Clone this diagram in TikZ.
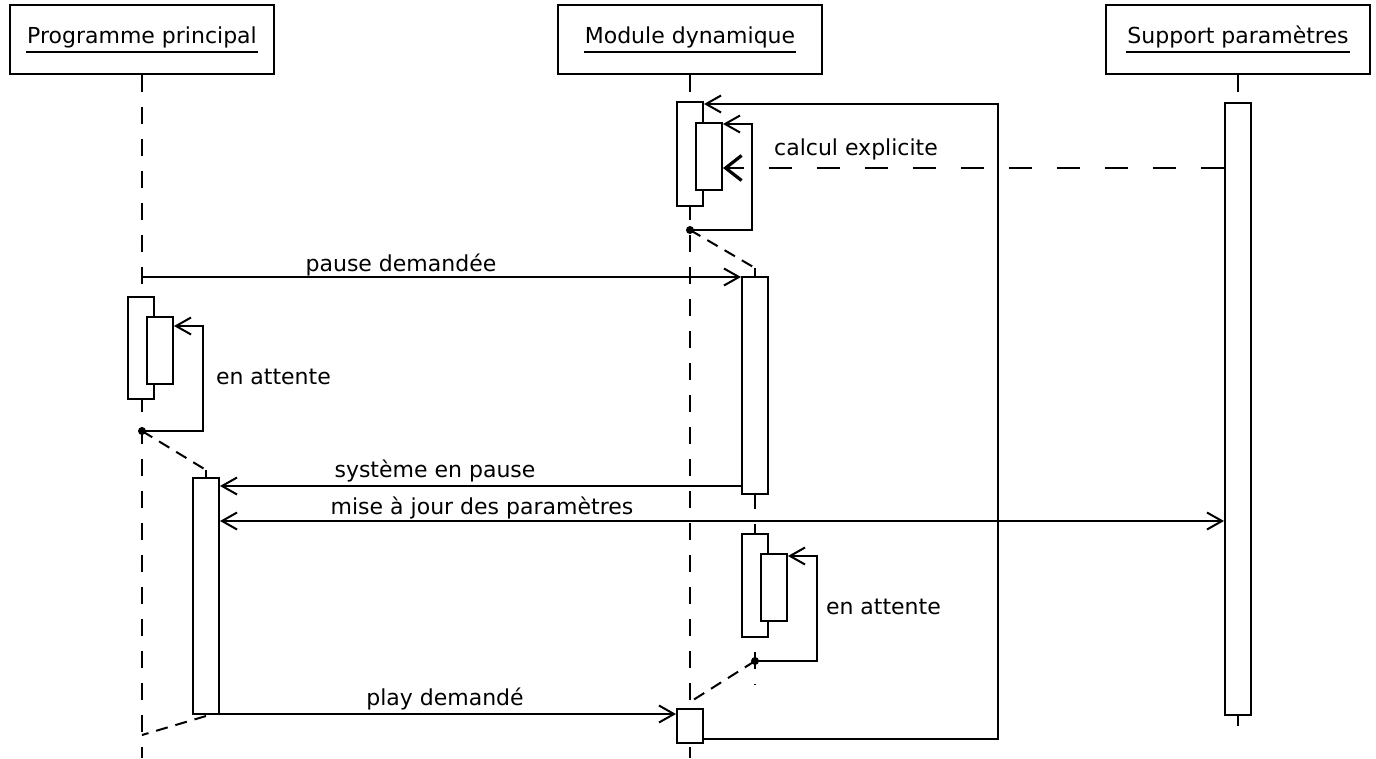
\documentclass[tikz,border=0pt]{standalone}
\usepackage{fontspec}
\setmainfont{DejaVu Sans}
\usetikzlibrary{positioning, arrows.meta}

\begin{document}
\begin{tikzpicture}[x=1pt, y=-1pt, line width=2pt,
		font=\fontsize{22}{26}\selectfont,
		tete/.style={draw, rectangle, minimum width=264pt, minimum height=69pt, inner sep=0pt},
		etiq/.style={inner sep=0pt},
		vie/.style={dash pattern=on 17pt off 15pt},
		fil/.style={dash pattern=on 12pt off 8pt},
		activ/.style={draw, fill=white, rectangle, inner sep=0pt, minimum width=26pt, anchor=north},
		msg/.style={-{Straight Barb[length=15pt, width=17pt]}},
		point/.style={circle, fill, inner sep=0pt, minimum size=8pt}]
		\def\Xpp{142} % ligne de vie : programme principal
		\def\Xmd{690} % ligne de vie : module dynamique
		\def\Xsp{1238} % ligne de vie : support parametres
		
		\useasboundingbox (0,0) rectangle (1376,758);
		
		% Entetes
		\node[tete] (pp) at (\Xpp,39.5) {};
		\node[etiq, anchor=base] (ppTxt) at (\Xpp,43) {Programme principal};
		\draw ([yshift=-9pt]ppTxt.base west) -- ([yshift=-9pt]ppTxt.base east);
		\node[tete] (md) at (\Xmd,39.5) {};
		\node[etiq, anchor=base] (mdTxt) at (\Xmd,43) {Module dynamique};
		\draw ([yshift=-9pt]mdTxt.base west) -- ([yshift=-9pt]mdTxt.base east);
		\node[tete] (sp) at (\Xsp,39.5) {};
		\node[etiq, anchor=base] (spTxt) at (\Xsp,43) {Support paramètres};
		\draw ([yshift=-9pt]spTxt.base west) -- ([yshift=-9pt]spTxt.base east);
		
		% Lignes de vie
		\draw[vie] (pp.south) -- (\Xpp,758);
		\draw[vie] (md.south) -- (\Xmd,758);
		\draw[vie] (sp.south) -- (\Xsp,726);
		
		% Fils secondaires (attente)
		\node[point] (mdP1) at (\Xmd,230) {};
		\node[point] (ppP1) at (\Xpp,431) {};
		\node[point] (mdP2) at (755,661) {};
		\draw[fil] (mdP1.center) -- (755,268);
		\draw[vie] (755,268) -- (755,685);
		\draw[fil] (ppP1.center) -- (206,470);
		\draw[vie] (206,470) -- (206,716);
		\draw[fil] (206,716) -- (\Xpp,735);
		\draw[fil] (mdP2.center) -- (\Xmd,702);
		
		% Activations
		\node[activ, minimum height=104pt] (md1) at (\Xmd,101) {};
		\node[activ, minimum height=67pt] (md2) at (709,122) {};
		\node[activ, minimum height=217pt] (md3) at (755,276) {};
		\node[activ, minimum height=103pt] (md4) at (755,533) {};
		\node[activ, minimum height=67pt] (md5) at (774,553) {};
		\node[activ, minimum height=34pt] (md6) at (\Xmd,708) {};
		\node[activ, minimum height=102pt] (pp1) at (141,296) {};
		\node[activ, minimum height=67pt] (pp2) at (160,316) {};
		\node[activ, minimum height=236pt] (pp3) at (206,477) {};
		\node[activ, minimum height=612pt] (sp1) at (\Xsp,102) {};
		
		% Boucles
		\draw[msg] (mdP1.center) -- ++(62,0) |- ([yshift=-2pt]md2.north east);
		\draw[msg] ([yshift=5pt]md6.south east) -- ++(294,0) |- ([yshift=-3pt]md1.north east);
		\draw[msg] (ppP1.center) -- ++(61,0) |- ([yshift=-10pt]pp2.north east);
		\draw[msg] (mdP2.center) -- ++(62,0) |- ([yshift=-3pt]md5.north east);
		
		% Messages
		\coordinate (calc) at (\Xsp,168);
		\draw[dash pattern=on 23pt off 25pt, -{Straight Barb[length=16pt, width=25pt, line width=3.2pt]}] (calc -| sp1.west) -- (calc -| md2.east);
		\node[etiq, anchor=base] (lCalc) at (856,155) {calcul explicite};
		
		\coordinate (ppPause) at (\Xpp,277);
		\draw[msg] (ppPause) -- (ppPause -| md3.west);
		\node[etiq, anchor=base] (lPause) at (401,271) {pause demandée};
		
		\coordinate (mdPause) at ([yshift=9pt]md3.south west);
		\draw[msg] (mdPause) -- (mdPause -| pp3.east);
		\node[etiq, anchor=base] (lSyst) at (435,477) {système en pause};
		
		\coordinate (maj) at (\Xsp,521);
		\draw[{Straight Barb[length=15pt, width=17pt]}-{Straight Barb[length=15pt, width=17pt]}] (maj -| pp3.east) -- (maj -| sp1.west);
		\node[etiq, anchor=base] (lMaj) at (482,514) {mise à jour des paramètres};
		
		\coordinate (play) at ([yshift=1pt]pp3.south east);
		\draw[msg] (play) -- (play -| md6.west);
		\node[etiq, anchor=base] (lPlay) at (445,705) {play demandé};
		
		\node[etiq, anchor=base west] (lAtt1) at (215,384) {en attente};
		\node[etiq, anchor=base west] (lAtt2) at (825,614) {en attente};
		
	\end{tikzpicture}
\end{document}
